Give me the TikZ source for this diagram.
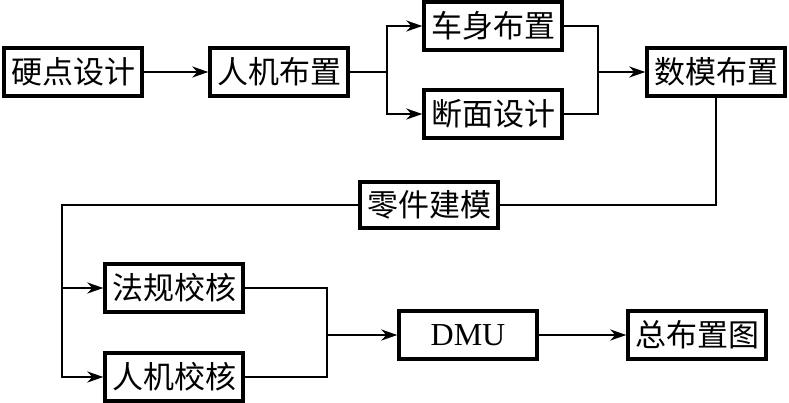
\documentclass[tikz,border=0pt]{standalone}
\usepackage{fontspec}
\setmainfont{Liberation Serif}
\newfontfamily\cjk{Noto Sans CJK SC}
\usetikzlibrary{arrows.meta}
\begin{document}
\begin{tikzpicture}[x=1pt,y=-1pt,
  box/.style={draw,line width=3.4pt,minimum width=138pt,minimum height=48pt,inner sep=0pt,font=\cjk\fontsize{31}{31}\selectfont},
  conn/.style={line width=1.9pt},
  arr/.style={conn,-{Stealth[length=16pt,width=11pt,inset=5pt]}}]
\useasboundingbox (0,0) rectangle (789,402);
\node[box] (a) at (73,72) {硬点设计};
\node[box] (b) at (279,72) {人机布置};
\node[box] (c) at (493,26) {车身布置};
\node[box] (d) at (493,114) {断面设计};
\node[box] (e) at (716,72) {数模布置};
\node[box,minimum height=46pt] (f) at (429,205) {零件建模};
\node[box] (g) at (174,288) {法规校核};
\node[box] (h) at (174,377) {人机校核};
\node[box,font=\fontsize{32}{32}\selectfont] (i) at (468,335) {DMU};
\node[box] (j) at (697,335) {总布置图};
\coordinate (s1) at (387,72);
\coordinate (m1) at (598,72);
\coordinate (s2) at (62,288);
\coordinate (m2) at (327,335);
\draw[arr] (a) -- (b);
\draw[conn] (b) -- (s1);
\draw[arr] (s1) |- (c);
\draw[arr] (s1) |- (d);
\draw[conn] (c) -| (m1) |- (d);
\draw[arr] (m1) -- (e);
\draw[conn] (e.south) |- (f.east);
\draw[conn] (f.west) -| (s2);
\draw[arr] (s2) -- (g);
\draw[arr] (s2) |- (h);
\draw[conn] (g) -| (m2) |- (h);
\draw[arr] (m2) -- (i);
\draw[arr] (i) -- (j);
\end{tikzpicture}
\end{document}
